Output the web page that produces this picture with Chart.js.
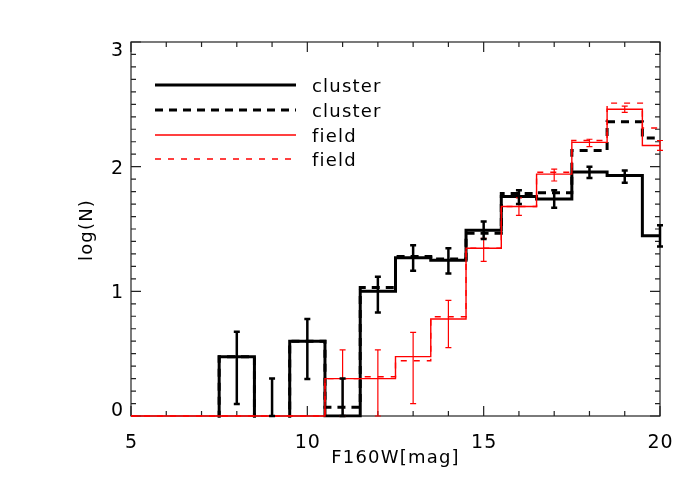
<!DOCTYPE html>
<html><head><meta charset="utf-8">
<script src="https://cdn.jsdelivr.net/npm/chart.js@4"></script>
<style>html,body{margin:0;padding:0;background:#fff;} canvas{display:block;}</style>
</head><body>
<canvas id="c" width="700" height="500"></canvas>
<script>
// ---- data ----
// EMPTY marks a bin with no counts: log10(0) lies below the axis and is clipped away
const EMPTY = -1;
const binCenters    = [5,6,7,8,9,10,11,12,13,14,15,16,17,18,19,20];
const clusterSolid  = [EMPTY,EMPTY,EMPTY,0.476,EMPTY,0.60,0,1.00,1.27,1.25,1.49,1.76,1.74,1.957,1.93,1.445];
const clusterDashed = [EMPTY,EMPTY,EMPTY,0.476,EMPTY,0.60,0.07,1.03,1.28,1.26,1.465,1.785,1.79,2.13,2.36,2.23];
const fieldSolid    = [0,0,0,0,0,0,0.30,0.30,0.476,0.778,1.345,1.68,1.94,2.195,2.46,2.17];
const fieldDashed   = [0,0,0,0,0,0,0.30,0.315,0.443,0.796,1.345,1.68,1.955,2.21,2.51,2.31];
const clusterErrHi  = [null,null,null,0.676,0.30,0.778,0.30,1.117,1.37,1.345,1.56,1.81,1.81,2.00,1.97,1.53];
const clusterErrLo  = [null,null,null,0.096,0,0.297,0,0.83,1.165,1.144,1.42,1.70,1.67,1.91,1.87,1.36];
const fieldErrHi    = [null,null,null,null,null,null,0.53,0.53,0.67,0.928,1.425,1.75,1.98,2.22,2.485,2.21];
const fieldErrLo    = [null,null,null,null,null,null,0,0,0.10,0.548,1.24,1.61,1.885,2.16,2.435,2.13];
const xTickLabels   = [5,10,15,20];
const xMinorTicks   = [5,6,7,8,9,10,11,12,13,14,15,16,17,18,19,20];
const yTickLabels   = [0,1,2,3];
const legendLabels  = ['cluster','cluster','field','field'];
const xTitle = 'F160W[mag]';
const yTitle = 'log(N)';

function pts(arr){ return binCenters.map((x,i)=>({x:x, y:arr[i]})); }
const FONT = '"DejaVu Sans", sans-serif';
const RED = '#ff0000';

const styles = [
  {color:'#000', width:3, dash:[]},
  {color:'#000', width:3, dash:[8,6]},
  {color:RED, width:1.4, dash:[]},
  {color:RED, width:1.4, dash:[6,7]}
];

const framePlugin = {
  id:'frame',
  beforeDatasetsDraw(chart){
    const ctx = chart.ctx, a = chart.chartArea, xs = chart.scales.x, ys = chart.scales.y;
    ctx.save();
    // box
    ctx.strokeStyle = '#222'; ctx.lineWidth = 1.2; ctx.setLineDash([]);
    ctx.strokeRect(a.left, a.top, a.right-a.left, a.bottom-a.top);
    // ticks
    ctx.beginPath();
    xMinorTicks.forEach(v=>{
      const px = xs.getPixelForValue(v);
      const L = xTickLabels.includes(v) ? 10 : 5;
      ctx.moveTo(px,a.bottom); ctx.lineTo(px,a.bottom-L);
      ctx.moveTo(px,a.top); ctx.lineTo(px,a.top+L);
    });
    for (let k=0;k<=30;k++){
      const v = k/10;
      const py = ys.getPixelForValue(v);
      const L = (k%10===0) ? 10 : 5;
      ctx.moveTo(a.left,py); ctx.lineTo(a.left+L,py);
      ctx.moveTo(a.right,py); ctx.lineTo(a.right-L,py);
    }
    ctx.stroke();

    // tick labels
    ctx.fillStyle = '#000';
    ctx.font = '19px ' + FONT;
    try { ctx.letterSpacing = '1px'; } catch(e){}
    ctx.textAlign = 'center'; ctx.textBaseline = 'alphabetic';
    xTickLabels.forEach(v=>{
      ctx.fillText(String(v), xs.getPixelForValue(v)+0.5, a.bottom+32);
    });
    ctx.textAlign = 'right';
    yTickLabels.forEach(v=>{
      const py = ys.getPixelForValue(v);
      let base;
      if (v===ys.max) base = py + 14;
      else if (v===ys.min) base = py;
      else base = py + 7;
      ctx.fillText(String(v), a.left-7, base);
    });

    // axis titles
    ctx.font = '18px ' + FONT;
    try { ctx.letterSpacing = '1.2px'; } catch(e){}
    ctx.textAlign = 'center';
    ctx.fillText(xTitle, (a.left+a.right)/2, 463);
    ctx.save();
    ctx.translate(92, 230);
    ctx.rotate(-Math.PI/2);
    ctx.fillText(yTitle, 0, 0);
    ctx.restore();
    ctx.restore();
  },
  afterDatasetsDraw(chart){
    const ctx = chart.ctx, xs = chart.scales.x, ys = chart.scales.y;
    ctx.save();
    // error bars
    function err(hi, lo, color, lw, cap){
      ctx.strokeStyle = color; ctx.lineWidth = lw; ctx.setLineDash([]); ctx.lineCap='butt';
      for (let i=0;i<binCenters.length;i++){
        if (hi[i]===null) continue;
        const px = xs.getPixelForValue(binCenters[i]);
        const t = ys.getPixelForValue(hi[i]), b = ys.getPixelForValue(lo[i]);
        ctx.beginPath();
        ctx.moveTo(px,t); ctx.lineTo(px,b);
        ctx.moveTo(px-cap,t); ctx.lineTo(px+cap,t);
        ctx.moveTo(px-cap,b); ctx.lineTo(px+cap,b);
        ctx.stroke();
      }
    }
    err(fieldErrHi, fieldErrLo, RED, 1.2, 3);
    err(clusterErrHi, clusterErrLo, '#000', 2.5, 3);

    // legend
    ctx.font = '18px ' + FONT;
    try { ctx.letterSpacing = '1.2px'; } catch(e){}
    ctx.textBaseline = 'alphabetic';
    const ly = [85, 110, 135, 159];
    legendLabels.forEach((lab,i)=>{
      const s = styles[i];
      ctx.strokeStyle = s.color; ctx.lineWidth = s.width; ctx.setLineDash(s.dash); ctx.lineCap='butt';
      ctx.beginPath(); ctx.moveTo(155, ly[i]); ctx.lineTo(296, ly[i]); ctx.stroke();
      ctx.setLineDash([]);
      ctx.fillStyle = '#000'; ctx.textAlign = 'left';
      ctx.fillText(lab, 312, ly[i]+7);
    });
    ctx.restore();
  }
};

function ds(label, arr, s, order, clip){
  return {label:label, data:pts(arr), borderColor:s.color, borderWidth:s.width, borderDash:s.dash,
    stepped:'middle', pointRadius:0, pointHoverRadius:0, fill:false, order:order, clip:clip,
    borderJoinStyle:'miter', borderCapStyle:'butt'};
}
const blackClip = {left:2, top:2, right:2, bottom:1.5};

new Chart(document.getElementById('c'), {
  type:'line',
  data:{ datasets:[
    ds(legendLabels[3], fieldDashed, styles[3], 0, false),
    ds(legendLabels[2], fieldSolid, styles[2], 1, false),
    ds(legendLabels[1], clusterDashed, styles[1], 2, blackClip),
    ds(legendLabels[0], clusterSolid, styles[0], 3, blackClip)
  ]},
  options:{
    responsive:false, animation:false,
    layout:{padding:{left:131, top:42, right:40, bottom:84}},
    scales:{
      x:{type:'linear', min:5, max:20, display:false},
      y:{type:'linear', min:0, max:3, display:false}
    },
    plugins:{legend:{display:false}, tooltip:{enabled:false}}
  },
  plugins:[framePlugin]
});
</script>
</body></html>
